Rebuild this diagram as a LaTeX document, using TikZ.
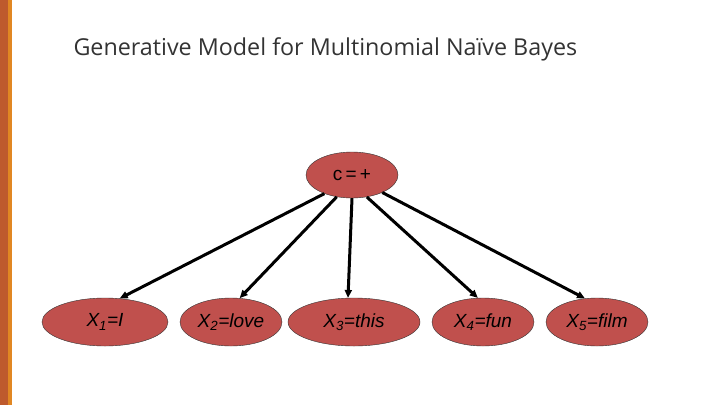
\documentclass[tikz,border=0pt]{standalone}
\usepackage{fontspec}
\setmainfont{Open Sans}
\newfontfamily\nodefont{Liberation Sans}
\usetikzlibrary{arrows.meta,shapes.geometric}
\definecolor{nodered}{RGB}{192,80,77}
\definecolor{bardark}{RGB}{190,90,45}
\definecolor{barlight}{RGB}{225,135,35}
\tikzset{
  var/.style={ellipse,draw=black!80,thin,fill=nodered,inner sep=0pt,
    minimum height=48pt,font=\nodefont\fontsize{19}{22}\selectfont\itshape},
  edge/.style={-{Triangle[length=8pt,width=7pt]},line width=3pt}
}

\begin{document}
\begin{tikzpicture}[x=1pt,y=-1pt]
\useasboundingbox (0,0) rectangle (720,405);
\fill[bardark] (0,0) rectangle (8,405);
\fill[barlight] (8,0) rectangle (12,405);
\node[anchor=base west,text=black!80,font=\fontsize{23.3}{28}\selectfont] (title) at (70,55) {Generative Model for Multinomial Naïve Bayes};
% class node
\node[var,minimum width=92pt,minimum height=46pt,font=\nodefont\fontsize{19}{22}\selectfont] (c) at (352,175) {c\,=\,+};
% word nodes
\node[var,minimum width=126pt] (x1) at (105,322) {X\textsubscript{1}=I};
\node[var,minimum width=102pt] (x2) at (231,322) {X\textsubscript{2}=love};
\node[var,minimum width=132pt] (x3) at (354,322) {X\textsubscript{3}=this};
\node[var,minimum width=102pt] (x4) at (483,322) {X\textsubscript{4}=fun};
\node[var,minimum width=102pt] (x5) at (597,322) {X\textsubscript{5}=film};
\foreach \n/\from/\to in {x1/214/58, x2/235/70, x3/270/104, x4/304/102, x5/330/117}
  \draw[edge] (c.\from) -- (\n.\to);
\end{tikzpicture}
\end{document}
